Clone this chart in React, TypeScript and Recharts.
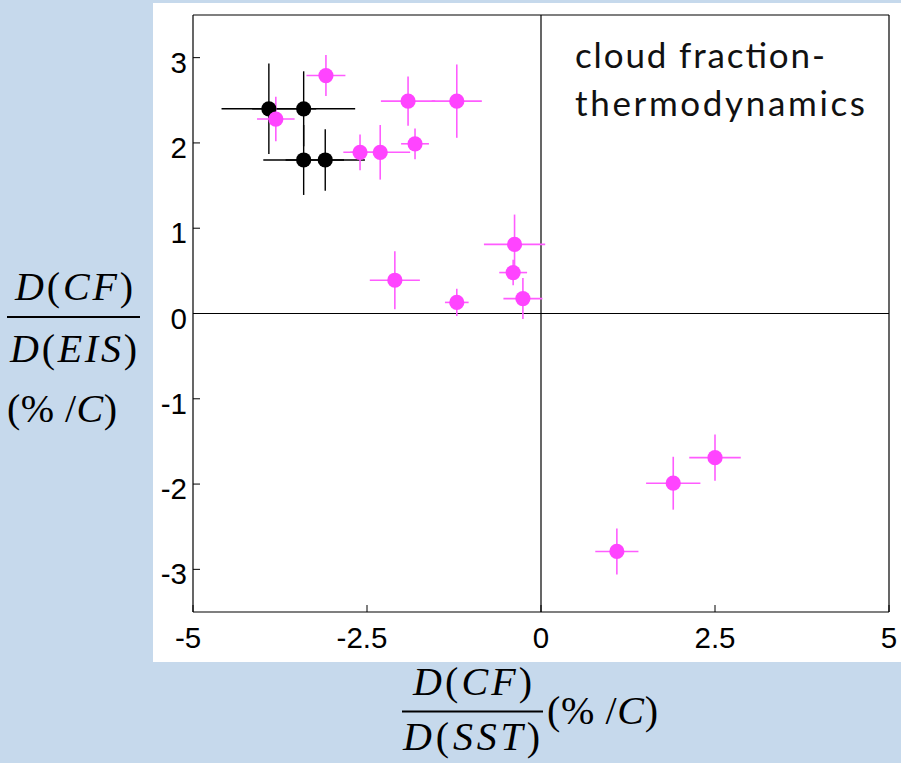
import React from 'react';
import { ScatterChart, Scatter, XAxis, YAxis, ErrorBar, ReferenceLine } from 'recharts';

// Black group (reference points)
const blackX = [-3.91, -3.41, -3.41, -3.1];
const blackY = [2.4, 2.4, 1.8, 1.8];
const blackXErr = [0.68, 0.74, 0.58, 0.57];
const blackYErr = [0.53, 0.44, 0.41, 0.36];

// Magenta group (models)
const magX = [-3.09, -3.81, -2.6, -2.31, -1.91, -1.21, -1.81, -2.1, -1.21, -0.38, -0.4, -0.26, 1.09, 1.9, 2.5];
const magY = [2.79, 2.28, 1.89, 1.89, 2.49, 2.49, 1.99, 0.39, 0.13, 0.81, 0.48, 0.175, -2.79, -1.99, -1.69];
const magXErr = [0.28, 0.27, 0.24, 0.43, 0.39, 0.36, 0.2, 0.36, 0.17, 0.44, 0.2, 0.28, 0.31, 0.39, 0.37];
const magYErr = [0.24, 0.26, 0.21, 0.32, 0.29, 0.43, 0.18, 0.34, 0.16, 0.35, 0.15, 0.24, 0.27, 0.31, 0.27];

const xTicks = [-5, -2.5, 0, 2.5, 5];
const yTicks = [-3, -2, -1, 0, 1, 2, 3];
const xDomain = [-5, 5];
const yDomain = [-3.5, 3.5];

const annotationLines = ['cloud fraction-', 'thermodynamics'];

const build = (xs: number[], ys: number[], exs: number[], eys: number[]) =>
  xs.map((x, i) => ({ x, y: ys[i], ex: exs[i], ey: eys[i] }));

const blackData = build(blackX, blackY, blackXErr, blackYErr);
const magData = build(magX, magY, magXErr, magYErr);

const MAG = '#ff44ff';
const MAG_BAR = '#ff5cff';
const TICK_FONT = '"Liberation Sans", Arial, Helvetica, sans-serif';
const SERIF = '"Liberation Serif", "Times New Roman", Times, serif';
const NOTE_FONT = "Lato, 'Open Sans', sans-serif";

const XTick = (props: any) => {
  const { x, y, payload } = props;
  const v = payload.value;
  return (
    <text x={x - (v < 0 ? 5 : 0)} y={y + 36} textAnchor="middle" fontFamily={TICK_FONT} fontSize={29.5} fill="#000">
      {String(v)}
    </text>
  );
};

const YTick = (props: any) => {
  const { x, y, payload } = props;
  return (
    <text x={x} y={y + 15} textAnchor="end" fontFamily={TICK_FONT} fontSize={29.5} fill="#000">
      {String(payload.value)}
    </text>
  );
};

const dot = (color: string) => (props: any) => (
  <circle cx={props.cx} cy={props.cy} r={7.6} fill={color} stroke="none" />
);

const Titles = () => (
  <g>
    {/* x-axis title */}
    <text x={413} y={695} textLength={119} fontFamily={SERIF} fontSize={40} fill="#000">
      <tspan fontStyle="italic">D</tspan>(<tspan fontStyle="italic">CF</tspan>)
    </text>
    <line x1={402} x2={543} y1={711.5} y2={711.5} stroke="#000" strokeWidth={2} />
    <text x={403} y={750} textLength={137} fontFamily={SERIF} fontSize={40} fill="#000">
      <tspan fontStyle="italic">D</tspan>(<tspan fontStyle="italic">SST</tspan>)
    </text>
    <text x={547} y={724} textLength={111} fontFamily={SERIF} fontSize={40} fill="#000">
      (% /<tspan fontStyle="italic">C</tspan>)
    </text>
    {/* y-axis title */}
    <text x={15} y={300} textLength={118} fontFamily={SERIF} fontSize={40} fill="#000">
      <tspan fontStyle="italic">D</tspan>(<tspan fontStyle="italic">CF</tspan>)
    </text>
    <line x1={7} x2={140} y1={317} y2={317} stroke="#000" strokeWidth={2} />
    <text x={10} y={362} textLength={127} fontFamily={SERIF} fontSize={40} fill="#000">
      <tspan fontStyle="italic">D</tspan>(<tspan fontStyle="italic">EIS</tspan>)
    </text>
    <text x={7} y={422} textLength={110} fontFamily={SERIF} fontSize={40} fill="#000">
      (% /<tspan fontStyle="italic">C</tspan>)
    </text>
    {/* annotation */}
    <text x={575} y={68} textLength={250} fontFamily={NOTE_FONT} fontSize={35} fill="#111">
      {annotationLines[0]}
    </text>
    <text x={575} y={116} textLength={290} fontFamily={NOTE_FONT} fontSize={35} fill="#111">
      {annotationLines[1]}
    </text>
  </g>
);

export default function App() {
  return (
    <div style={{ position: 'absolute', left: 0, top: 0, width: 901, height: 763, background: '#c6d9ec', overflow: 'hidden' }}>
      <div style={{ position: 'absolute', left: 153, top: 3, width: 748, height: 659, background: '#ffffff' }} />
      <div style={{ position: 'absolute', left: 0, top: 0 }}>
        <ScatterChart width={901} height={763} margin={{ top: 14, right: 11, bottom: 111, left: 153 }}>
          <XAxis
            xAxisId="b"
            dataKey="x"
            type="number"
            domain={xDomain}
            ticks={xTicks}
            orientation="bottom"
            height={40}
            tickSize={-7}
            tickMargin={7}
            tick={<XTick />}
            axisLine={{ stroke: '#000', strokeWidth: 1.2 }}
            tickLine={{ stroke: '#000', strokeWidth: 1 }}
            allowDataOverflow
          />
          <XAxis
            xAxisId="t"
            type="number"
            domain={xDomain}
            ticks={xTicks}
            orientation="top"
            height={1}
            tickSize={-7}
            tick={false}
            axisLine={{ stroke: '#000', strokeWidth: 1.2 }}
            tickLine={{ stroke: '#000', strokeWidth: 1 }}
            allowDataOverflow
          />
          <YAxis
            yAxisId="l"
            dataKey="y"
            type="number"
            domain={yDomain}
            ticks={yTicks}
            orientation="left"
            width={40}
            tickSize={-7}
            tickMargin={13}
            tick={<YTick />}
            axisLine={{ stroke: '#000', strokeWidth: 1.2 }}
            tickLine={{ stroke: '#000', strokeWidth: 1 }}
            allowDataOverflow
          />
          <YAxis
            yAxisId="r"
            type="number"
            domain={yDomain}
            ticks={yTicks}
            orientation="right"
            width={1}
            tickSize={-7}
            tick={false}
            axisLine={{ stroke: '#000', strokeWidth: 1.2 }}
            tickLine={{ stroke: '#000', strokeWidth: 1 }}
            allowDataOverflow
          />
          <ReferenceLine xAxisId="b" yAxisId="l" x={0} stroke="#000" strokeWidth={1.2} />
          <ReferenceLine xAxisId="b" yAxisId="l" y={0} stroke="#000" strokeWidth={1.2} />
          <Scatter xAxisId="b" yAxisId="l" data={blackData} isAnimationActive={false} shape={dot('#000')}>
            <ErrorBar dataKey="ex" direction="x" width={0} stroke="#000" strokeWidth={1.4} isAnimationActive={false} />
            <ErrorBar dataKey="ey" direction="y" width={0} stroke="#000" strokeWidth={1.4} isAnimationActive={false} />
          </Scatter>
          <Scatter xAxisId="b" yAxisId="l" data={magData} isAnimationActive={false} shape={dot(MAG)}>
            <ErrorBar dataKey="ex" direction="x" width={0} stroke={MAG_BAR} strokeWidth={1.6} isAnimationActive={false} />
            <ErrorBar dataKey="ey" direction="y" width={0} stroke={MAG_BAR} strokeWidth={1.6} isAnimationActive={false} />
          </Scatter>
          <Titles />
        </ScatterChart>
      </div>
    </div>
  );
}
